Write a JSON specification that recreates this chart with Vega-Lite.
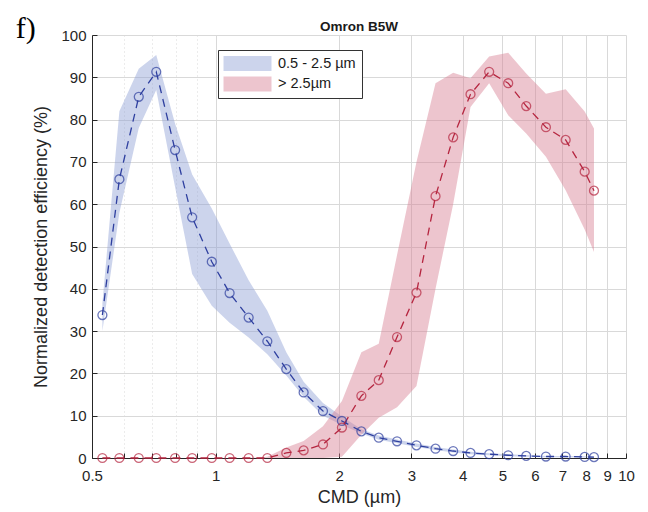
{
  "$schema": "https://vega.github.io/schema/vega-lite/v6.json",
  "autosize": "none",
  "width": 534,
  "height": 423,
  "padding": {"left": 92, "top": 35, "right": 22, "bottom": 54},
  "background": "white",
  "title": {"text": "Omron B5W", "font": "Liberation Sans", "fontSize": 13.5, "fontWeight": "bold", "color": "#1a1a1a", "offset": -17, "dy": 3, "anchor": "middle", "frame": "group"},
  "config": {
    "view": {"stroke": null},
    "font": "Liberation Sans",
    "axis": {
      "labelFont": "Liberation Sans", "titleFont": "Liberation Sans",
      "labelFontSize": 15, "titleFontSize": 18, "titleFontWeight": "normal",
      "labelColor": "#262626", "titleColor": "#262626",
      "domainColor": "#262626", "tickColor": "#262626",
      "gridColor": "#d9d9d9", "gridWidth": 1
    }
  },
  "data": {"values": [
    {"s": "0.5 - 2.5 µm", "x": 0.53, "y": 33.8, "lo": 30, "hi": 36.5},
    {"s": "0.5 - 2.5 µm", "x": 0.583, "y": 65.9, "lo": 58, "hi": 82},
    {"s": "0.5 - 2.5 µm", "x": 0.65, "y": 85.4, "lo": 78, "hi": 92},
    {"s": "0.5 - 2.5 µm", "x": 0.717, "y": 91.3, "lo": 87, "hi": 95.3},
    {"s": "0.5 - 2.5 µm", "x": 0.797, "y": 72.8, "lo": 64, "hi": 79},
    {"s": "0.5 - 2.5 µm", "x": 0.877, "y": 56.9, "lo": 43.5, "hi": 67},
    {"s": "0.5 - 2.5 µm", "x": 0.979, "y": 46.4, "lo": 36, "hi": 59},
    {"s": "0.5 - 2.5 µm", "x": 1.082, "y": 39.0, "lo": 32, "hi": 50.7},
    {"s": "0.5 - 2.5 µm", "x": 1.204, "y": 33.2, "lo": 28.5, "hi": 42},
    {"s": "0.5 - 2.5 µm", "x": 1.337, "y": 27.6, "lo": 24.5, "hi": 34.8},
    {"s": "0.5 - 2.5 µm", "x": 1.487, "y": 21.0, "lo": 19.5, "hi": 25},
    {"s": "0.5 - 2.5 µm", "x": 1.639, "y": 15.5, "lo": 14.5, "hi": 18},
    {"s": "0.5 - 2.5 µm", "x": 1.827, "y": 11.1, "lo": 10, "hi": 13},
    {"s": "0.5 - 2.5 µm", "x": 2.032, "y": 8.75, "lo": 7.8, "hi": 9.8},
    {"s": "0.5 - 2.5 µm", "x": 2.266, "y": 6.3, "lo": 5.8, "hi": 6.8},
    {"s": "0.5 - 2.5 µm", "x": 2.498, "y": 4.8, "lo": 4.3, "hi": 5.3},
    {"s": "0.5 - 2.5 µm", "x": 2.768, "y": 3.95, "lo": 3.5, "hi": 4.4},
    {"s": "0.5 - 2.5 µm", "x": 3.087, "y": 3.0, "lo": 2.6, "hi": 3.4},
    {"s": "0.5 - 2.5 µm", "x": 3.435, "y": 2.2, "lo": 1.9, "hi": 2.6},
    {"s": "0.5 - 2.5 µm", "x": 3.792, "y": 1.65, "lo": 1.3, "hi": 2.0},
    {"s": "0.5 - 2.5 µm", "x": 4.18, "y": 1.2, "lo": 0.9, "hi": 1.5},
    {"s": "0.5 - 2.5 µm", "x": 4.641, "y": 0.9, "lo": 0.65, "hi": 1.15},
    {"s": "0.5 - 2.5 µm", "x": 5.164, "y": 0.65, "lo": 0.4, "hi": 0.9},
    {"s": "0.5 - 2.5 µm", "x": 5.713, "y": 0.5, "lo": 0.3, "hi": 0.7},
    {"s": "0.5 - 2.5 µm", "x": 6.381, "y": 0.35, "lo": 0.2, "hi": 0.5},
    {"s": "0.5 - 2.5 µm", "x": 7.128, "y": 0.35, "lo": 0.2, "hi": 0.5},
    {"s": "0.5 - 2.5 µm", "x": 7.931, "y": 0.25, "lo": 0.1, "hi": 0.4},
    {"s": "0.5 - 2.5 µm", "x": 8.356, "y": 0.2, "lo": 0.1, "hi": 0.3},
    {"s": "> 2.5µm", "x": 0.53, "y": 0, "lo": 0, "hi": 0},
    {"s": "> 2.5µm", "x": 0.583, "y": 0, "lo": 0, "hi": 0},
    {"s": "> 2.5µm", "x": 0.65, "y": 0, "lo": 0, "hi": 0},
    {"s": "> 2.5µm", "x": 0.717, "y": 0, "lo": 0, "hi": 0},
    {"s": "> 2.5µm", "x": 0.797, "y": 0, "lo": 0, "hi": 0},
    {"s": "> 2.5µm", "x": 0.877, "y": 0, "lo": 0, "hi": 0},
    {"s": "> 2.5µm", "x": 0.979, "y": 0, "lo": 0, "hi": 0},
    {"s": "> 2.5µm", "x": 1.082, "y": 0, "lo": 0, "hi": 0},
    {"s": "> 2.5µm", "x": 1.204, "y": 0, "lo": 0, "hi": 0},
    {"s": "> 2.5µm", "x": 1.337, "y": 0, "lo": 0, "hi": 0.3},
    {"s": "> 2.5µm", "x": 1.487, "y": 1.2, "lo": 0, "hi": 2.5},
    {"s": "> 2.5µm", "x": 1.639, "y": 1.8, "lo": 0, "hi": 4},
    {"s": "> 2.5µm", "x": 1.827, "y": 3.2, "lo": 0, "hi": 7.5},
    {"s": "> 2.5µm", "x": 2.032, "y": 7.2, "lo": 0.3, "hi": 13.5},
    {"s": "> 2.5µm", "x": 2.266, "y": 14.7, "lo": 5.5, "hi": 25},
    {"s": "> 2.5µm", "x": 2.498, "y": 18.4, "lo": 9.5, "hi": 27},
    {"s": "> 2.5µm", "x": 2.768, "y": 28.6, "lo": 12, "hi": 48},
    {"s": "> 2.5µm", "x": 3.087, "y": 39.1, "lo": 17, "hi": 70},
    {"s": "> 2.5µm", "x": 3.435, "y": 61.9, "lo": 40, "hi": 88.6},
    {"s": "> 2.5µm", "x": 3.792, "y": 75.8, "lo": 60, "hi": 91.1},
    {"s": "> 2.5µm", "x": 4.18, "y": 86.0, "lo": 83, "hi": 89.8},
    {"s": "> 2.5µm", "x": 4.641, "y": 91.3, "lo": 88.6, "hi": 94.9},
    {"s": "> 2.5µm", "x": 5.164, "y": 88.6, "lo": 81, "hi": 95.8},
    {"s": "> 2.5µm", "x": 5.713, "y": 83.2, "lo": 76.7, "hi": 90.9},
    {"s": "> 2.5µm", "x": 6.381, "y": 78.2, "lo": 71.2, "hi": 86.1},
    {"s": "> 2.5µm", "x": 7.128, "y": 75.2, "lo": 63.3, "hi": 87.2},
    {"s": "> 2.5µm", "x": 7.931, "y": 67.7, "lo": 54, "hi": 81.9},
    {"s": "> 2.5µm", "x": 8.356, "y": 63.2, "lo": 48.7, "hi": 77.9}
  ]},
  "layer": [
    {
      "mark": {"type": "area", "opacity": 0.45},
      "encoding": {
        "x": {"field": "x", "type": "quantitative",
          "scale": {"type": "log", "domain": [0.5, 10], "nice": false},
          "axis": {
            "title": "CMD (µm)",
            "values": [0.5, 0.6, 0.7, 0.8, 0.9, 1, 2, 3, 4, 5, 6, 7, 8, 9, 10],
            "labelExpr": "(datum.value > 0.55 && datum.value < 0.95) ? '' : format(datum.value, '~g')",
            "grid": true,
            "gridDash": {"condition": {"test": "datum.value < 0.95", "value": [1, 3]}, "value": []},
            "tickSize": -5,
            "labelPadding": 15,
            "titlePadding": 5,
            "labelFlush": false,
            "labelOverlap": false
          }
        },
        "y": {"field": "lo", "type": "quantitative",
          "scale": {"domain": [0, 100], "nice": false},
          "axis": {
            "title": "Normalized detection efficiency (%)",
            "values": [0, 10, 20, 30, 40, 50, 60, 70, 80, 90, 100],
            "grid": true,
            "tickSize": -5,
            "labelPadding": 11,
            "titlePadding": 10
          }
        },
        "y2": {"field": "hi"},
        "fill": {"field": "s", "type": "nominal",
          "scale": {"domain": ["0.5 - 2.5 µm", "> 2.5µm"], "range": ["#8f9fd4", "#d77f93"]},
          "legend": {
            "title": null, "orient": "none", "legendX": 126, "legendY": 15,
            "fillColor": "white", "strokeColor": "#333333", "padding": 5.5,
            "symbolType": "M-3,-0.94L3,-0.94L3,0.94L-3,0.94Z", "symbolSize": 256,
            "symbolOffset": 16,
            "symbolOpacity": 0.45, "symbolStrokeWidth": 0,
            "labelFont": "Liberation Sans", "labelFontSize": 14.5, "labelColor": "#1a1a1a",
            "labelOffset": 22.5, "rowPadding": 4.5
          }
        }
      }
    },
    {
      "mark": {"type": "line", "strokeDash": [8, 6], "strokeWidth": 1.3},
      "encoding": {
        "x": {"field": "x", "type": "quantitative"},
        "y": {"field": "y", "type": "quantitative"},
        "stroke": {"field": "s", "type": "nominal",
          "scale": {"domain": ["0.5 - 2.5 µm", "> 2.5µm"], "range": ["#2e3f9f", "#b5253f"]},
          "legend": null}
      }
    },
    {
      "mark": {"type": "point", "shape": "circle", "filled": false, "size": 80, "strokeWidth": 1.3},
      "encoding": {
        "x": {"field": "x", "type": "quantitative"},
        "y": {"field": "y", "type": "quantitative"},
        "stroke": {"field": "s", "type": "nominal", "legend": null}
      }
    },
    {
      "data": {"values": [{"x": 0.345, "y": 101.5, "t": "f)"}]},
      "mark": {"type": "text", "font": "Liberation Serif", "fontSize": 30, "align": "center", "baseline": "middle", "color": "black"},
      "encoding": {
        "x": {"field": "x", "type": "quantitative"},
        "y": {"field": "y", "type": "quantitative"},
        "text": {"field": "t"}
      }
    }
  ]
}
